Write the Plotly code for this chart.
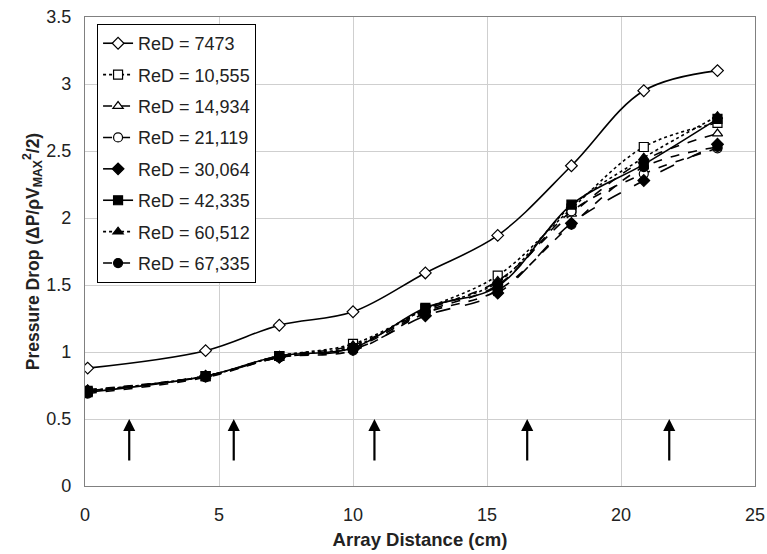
import plotly.graph_objects as go

x_cm = [0.1, 4.5, 7.25, 10.0, 12.7, 15.4, 18.15, 20.85, 23.6]

re_7473 = [0.88, 1.01, 1.20, 1.30, 1.59, 1.87, 2.39, 2.95, 3.10]
re_10555 = [0.71, 0.82, 0.97, 1.06, 1.32, 1.57, 2.07, 2.53, 2.71]
re_14934 = [0.72, 0.82, 0.97, 1.05, 1.31, 1.53, 2.03, 2.43, 2.63]
re_21119 = [0.71, 0.82, 0.96, 1.03, 1.30, 1.50, 2.05, 2.33, 2.52]
re_30064 = [0.71, 0.82, 0.96, 1.02, 1.27, 1.44, 1.96, 2.28, 2.55]
re_42335 = [0.70, 0.82, 0.97, 1.03, 1.33, 1.49, 2.10, 2.40, 2.74]
re_60512 = [0.71, 0.82, 0.97, 1.04, 1.32, 1.52, 2.09, 2.45, 2.76]
re_67335 = [0.69, 0.81, 0.96, 1.01, 1.29, 1.46, 1.95, 2.38, 2.53]

series_names = ["ReD = 7473", "ReD = 10,555", "ReD = 14,934", "ReD = 21,119",
                "ReD = 30,064", "ReD = 42,335", "ReD = 60,512", "ReD = 67,335"]

arrow_x = [1.65, 5.55, 10.8, 16.5, 21.8]
arrow_tip_y = 0.5
arrow_base_y = 0.18

FONT = "Liberation Sans, Arial, sans-serif"

styles = [
    dict(dash="solid", symbol="diamond", fill="white", size=9),
    dict(dash="dot", symbol="square", fill="white", size=9),
    dict(dash="dash", symbol="triangle-up", fill="white", size=9),
    dict(dash="dash", symbol="circle", fill="white", size=9),
    dict(dash="longdash", symbol="diamond", fill="black", size=9),
    dict(dash="solid", symbol="square", fill="black", size=9),
    dict(dash="dot", symbol="triangle-up", fill="black", size=9),
    dict(dash="dash", symbol="circle", fill="black", size=9),
]

data = [re_7473, re_10555, re_14934, re_21119, re_30064, re_42335, re_60512, re_67335]

fig = go.Figure()
for name, ys, st in zip(series_names, data, styles):
    fig.add_trace(go.Scatter(
        x=x_cm, y=ys, name=name, mode="lines+markers", legendgroup=name,
        line=dict(color="black", width=1.6, dash=st["dash"], shape="spline", smoothing=1.0),
        marker=dict(symbol=st["symbol"], size=st["size"], color=st["fill"],
                    line=dict(color="black", width=1.2)),
    ))

for ax_ in arrow_x:
    fig.add_annotation(
        x=ax_, y=arrow_tip_y, ax=ax_, ay=arrow_base_y,
        xref="x", yref="y", axref="x", ayref="y",
        showarrow=True, arrowhead=2, arrowsize=1.1, arrowwidth=2.2,
        arrowcolor="black", text="",
    )

fig.update_layout(
    width=767, height=554,
    margin=dict(l=85, r=12, t=17, b=68),
    paper_bgcolor="white", plot_bgcolor="white",
    font=dict(family=FONT, size=18, color="#222"),
    showlegend=True,
    legend=dict(
        x=0.018, y=0.985, xanchor="left", yanchor="top",
        bgcolor="white", bordercolor="black", borderwidth=1,
        font=dict(family=FONT, size=18, color="#222"),
        tracegroupgap=5, itemwidth=30,
    ),
    xaxis=dict(
        range=[0, 25], dtick=5, tick0=0, automargin=False,
        showgrid=True, gridcolor="#cfcfcf", gridwidth=1,
        showline=True, linecolor="#808080", linewidth=1.3, mirror=True,
        zeroline=False, ticks="", ticklabelstandoff=12,
        tickfont=dict(family=FONT, size=18, color="#222"),
        title=dict(text="<b>Array Distance (cm)</b>", standoff=9,
                   font=dict(family=FONT, size=18.5, color="#222")),
    ),
    yaxis=dict(
        range=[0, 3.5], dtick=0.5, tick0=0, automargin=False,
        showgrid=True, gridcolor="#cfcfcf", gridwidth=1,
        showline=True, linecolor="#808080", linewidth=1.3, mirror=True,
        zeroline=False, ticks="", ticklabelstandoff=9,
        tickfont=dict(family=FONT, size=18, color="#222"),
        title=dict(text="<b>Pressure Drop (ΔP/ρV<sub>MAX</sub><sup>2</sup>/2)</b>", standoff=2,
                   font=dict(family=FONT, size=17.5, color="#222")),
    ),
)

fig.write_html("out.html", config={"displayModeBar": False},
               post_script="document.body.style.margin='0px';")
